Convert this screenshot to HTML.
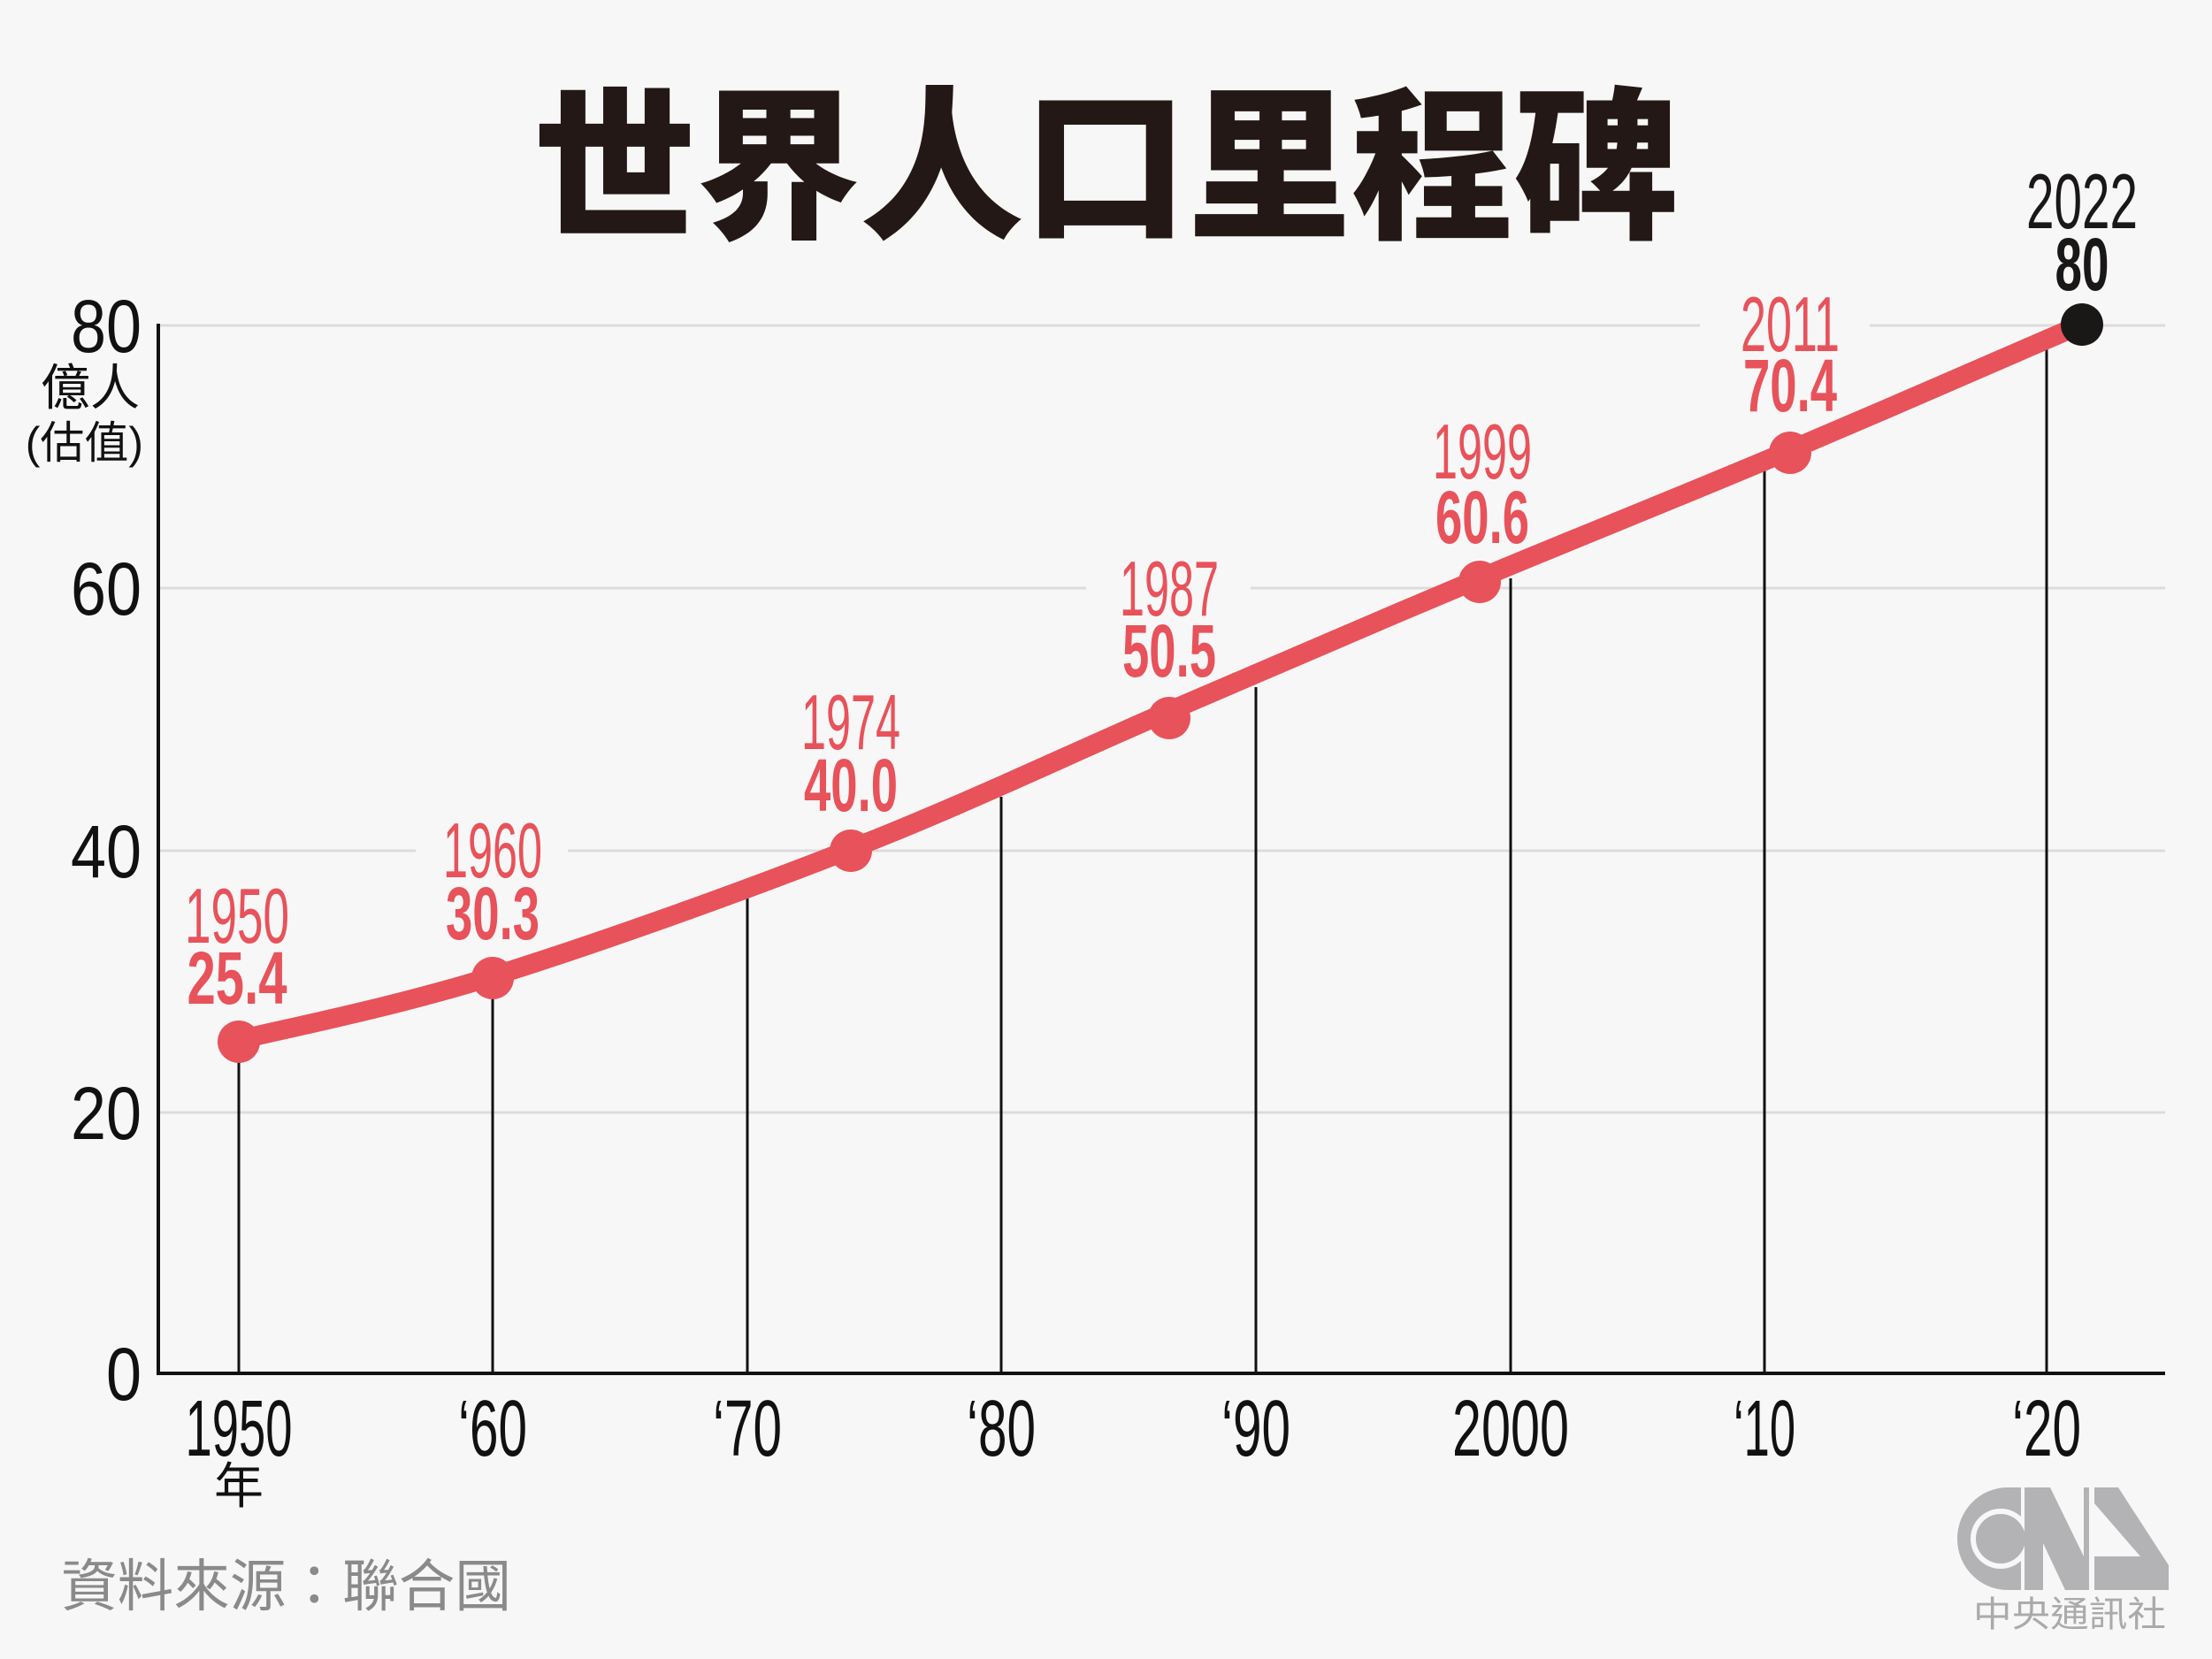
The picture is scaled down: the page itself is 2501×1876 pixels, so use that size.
<!DOCTYPE html>
<html><head><meta charset="utf-8"><style>
html,body{margin:0;padding:0;background:#f7f7f7;}
svg{display:block;}
text{font-family:"Liberation Sans","Noto Sans CJK TC",sans-serif;}
</style></head><body>
<svg width="2501" height="1876" viewBox="0 0 2501 1876" xmlns="http://www.w3.org/2000/svg">
<rect width="2501" height="1876" fill="#f7f7f7"/>
<text x="1250" y="255" font-size="186" font-weight="900" text-anchor="middle" fill="#231815" textLength="1295" lengthAdjust="spacingAndGlyphs" style="font-family:'Noto Sans CJK TC','Noto Sans CJK SC',sans-serif">世界人口里程碑</text>
<g stroke="#dcdcdc" stroke-width="3">
<line x1="181" y1="368" x2="2448" y2="368"/>
<line x1="181" y1="665" x2="2448" y2="665"/>
<line x1="181" y1="962" x2="2448" y2="962"/>
<line x1="181" y1="1258" x2="2448" y2="1258"/>
</g>
<g fill="#f7f7f7">
<rect x="470" y="920" width="172" height="160"/>
<rect x="1228" y="630" width="186" height="150"/>
<rect x="1922" y="330" width="192" height="150"/>
</g>
<g stroke="#111" stroke-width="3">
<line x1="270" y1="1553" x2="270" y2="1176"/>
<line x1="557" y1="1553" x2="557" y2="1104"/>
<line x1="845" y1="1553" x2="845" y2="1014"/>
<line x1="1132" y1="1553" x2="1132" y2="901"/>
<line x1="1420" y1="1553" x2="1420" y2="777"/>
<line x1="1708" y1="1553" x2="1708" y2="654"/>
<line x1="1995" y1="1553" x2="1995" y2="520"/>
<line x1="2314" y1="1553" x2="2314" y2="385"/>
</g>
<line x1="179" y1="366" x2="179" y2="1555" stroke="#111" stroke-width="4"/>
<line x1="177" y1="1553" x2="2448" y2="1553" stroke="#111" stroke-width="4"/>
<path d="M270,1176 C318,1164 442,1140 557,1104 C672,1068 835,1010 962,960 C1090,910 1204,855 1322,804 C1441,753 1556,703 1673,654 C1790,605 1911,557 2024,509 C2137,461 2298,391 2353,367" fill="none" stroke="#e8525a" stroke-width="22" stroke-linecap="round"/>
<g fill="#e8525a">
<circle cx="270" cy="1178" r="24"/><circle cx="557" cy="1106" r="24"/><circle cx="962" cy="962" r="24"/>
<circle cx="1322" cy="812" r="24"/><circle cx="1673" cy="658" r="24"/><circle cx="2024" cy="512" r="24"/>
</g>
<circle cx="2354" cy="367" r="24" fill="#1a1717"/>
<g fill="#e8525a" text-anchor="middle">
<text x="268" y="1066" font-size="88" textLength="118" lengthAdjust="spacingAndGlyphs">1950</text>
<text x="268" y="1135" font-size="84" font-weight="bold" textLength="113" lengthAdjust="spacingAndGlyphs">25.4</text>
<text x="557" y="992" font-size="88" textLength="112" lengthAdjust="spacingAndGlyphs">1960</text>
<text x="557" y="1062" font-size="84" font-weight="bold" textLength="106" lengthAdjust="spacingAndGlyphs">30.3</text>
<text x="962" y="847" font-size="88" textLength="112" lengthAdjust="spacingAndGlyphs">1974</text>
<text x="962" y="917" font-size="84" font-weight="bold" textLength="106" lengthAdjust="spacingAndGlyphs">40.0</text>
<text x="1322" y="696" font-size="88" textLength="112" lengthAdjust="spacingAndGlyphs">1987</text>
<text x="1322" y="765" font-size="84" font-weight="bold" textLength="106" lengthAdjust="spacingAndGlyphs">50.5</text>
<text x="1676" y="541" font-size="88" textLength="112" lengthAdjust="spacingAndGlyphs">1999</text>
<text x="1676" y="614" font-size="84" font-weight="bold" textLength="106" lengthAdjust="spacingAndGlyphs">60.6</text>
<text x="2024" y="397" font-size="88" textLength="112" lengthAdjust="spacingAndGlyphs">2011</text>
<text x="2024" y="465" font-size="84" font-weight="bold" textLength="106" lengthAdjust="spacingAndGlyphs">70.4</text>
</g>
<g fill="#1a1717" text-anchor="middle">
<text x="2354" y="258" font-size="88" textLength="126" lengthAdjust="spacingAndGlyphs">2022</text>
<text x="2354" y="328" font-size="84" font-weight="bold" textLength="61" lengthAdjust="spacingAndGlyphs">80</text>
</g>
<g fill="#111" text-anchor="end" font-size="84">
<text x="160" y="398" textLength="80" lengthAdjust="spacingAndGlyphs">80</text>
<text x="160" y="695" textLength="80" lengthAdjust="spacingAndGlyphs">60</text>
<text x="160" y="992" textLength="80" lengthAdjust="spacingAndGlyphs">40</text>
<text x="160" y="1288" textLength="80" lengthAdjust="spacingAndGlyphs">20</text>
<text x="160" y="1583" textLength="40" lengthAdjust="spacingAndGlyphs">0</text>
</g>
<text x="158" y="458" font-size="56" text-anchor="end" fill="#111">億人</text>
<text x="162" y="518" font-size="50" text-anchor="end" fill="#111">(估值)</text>
<g fill="#111" text-anchor="middle" font-size="90">
<text x="270" y="1646" textLength="121" lengthAdjust="spacingAndGlyphs">1950</text>
<text x="557" y="1646" textLength="78" lengthAdjust="spacingAndGlyphs">‘60</text>
<text x="845" y="1646" textLength="78" lengthAdjust="spacingAndGlyphs">‘70</text>
<text x="1132" y="1646" textLength="78" lengthAdjust="spacingAndGlyphs">‘80</text>
<text x="1420" y="1646" textLength="78" lengthAdjust="spacingAndGlyphs">‘90</text>
<text x="1708" y="1646" textLength="132" lengthAdjust="spacingAndGlyphs">2000</text>
<text x="1995" y="1646" textLength="70" lengthAdjust="spacingAndGlyphs">‘10</text>
<text x="2314" y="1646" textLength="78" lengthAdjust="spacingAndGlyphs">‘20</text>
</g>
<text x="270" y="1700" font-size="56" text-anchor="middle" fill="#111">年</text>
<text x="69" y="1816" font-size="64" fill="#8a8a8a" textLength="509" lengthAdjust="spacingAndGlyphs">資料來源：聯合國</text>
<g fill="#b3b3b5">
<path d="M2285,1682 L2270,1682 A57,58 0 0 0 2270,1798 L2285,1798 Z"/>
<circle cx="2262" cy="1740" r="34" fill="#f7f7f7"/>
<circle cx="2262" cy="1740" r="28"/>
<polygon points="2289,1682 2318,1682 2356,1760 2356,1682 2362,1682 2362,1798 2335,1798 2310,1745 2310,1798 2289,1798"/>
<polygon points="2368,1682 2395,1682 2452,1770 2452,1798 2368,1798 2368,1760 2420,1760 2368,1700"/>
</g>
<text x="2340" y="1839" font-size="40" text-anchor="middle" fill="#aaaaab" textLength="218" lengthAdjust="spacingAndGlyphs">中央通訊社</text>
</svg>
</body></html>
